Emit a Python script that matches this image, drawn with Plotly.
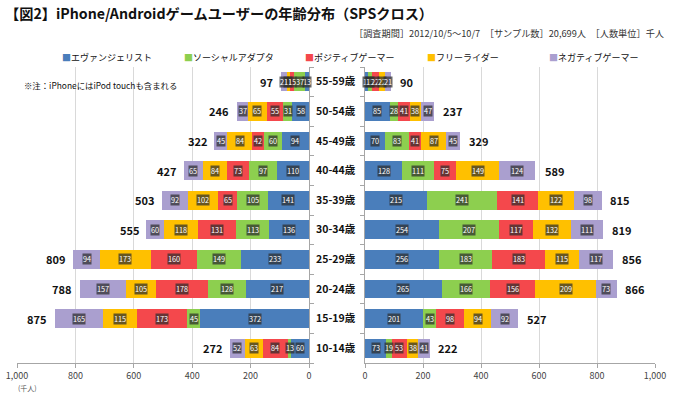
import plotly.graph_objects as go

ages = ["55-59歳", "50-54歳", "45-49歳", "40-44歳", "35-39歳",
        "30-34歳", "25-29歳", "20-24歳", "15-19歳", "10-14歳"]
series_names = ["エヴァンジェリスト", "ソーシャルアダプタ", "ポジティブゲーマー", "フリーライダー", "ネガティブゲーマー"]
colors = ["#4a7ebb", "#8dcf4f", "#f4484c", "#ffc000", "#aa9fcf"]

# iPhone (left)
iphone_evangelist = [13, 58, 94, 110, 141, 136, 233, 217, 372, 60]
iphone_social = [37, 31, 60, 97, 105, 113, 149, 128, 45, 13]
iphone_positive = [15, 55, 42, 73, 65, 131, 160, 178, 173, 84]
iphone_free = [11, 65, 84, 84, 102, 118, 173, 105, 115, 63]
iphone_negative = [21, 37, 45, 65, 92, 60, 94, 157, 165, 52]
iphone_total = [97, 246, 322, 427, 503, 555, 809, 788, 875, 272]

# Android (right)
android_evangelist = [12, 85, 70, 128, 215, 254, 256, 265, 201, 73]
android_social = [13, 28, 83, 111, 241, 207, 183, 166, 43, 19]
android_positive = [22, 41, 41, 75, 141, 117, 183, 156, 98, 53]
android_free = [22, 38, 87, 149, 122, 132, 115, 209, 94, 38]
android_negative = [21, 47, 45, 124, 98, 111, 117, 73, 92, 41]
android_total = [90, 237, 329, 589, 815, 819, 856, 866, 527, 222]

iphone = [iphone_evangelist, iphone_social, iphone_positive, iphone_free, iphone_negative]
android = [android_evangelist, android_social, android_positive, android_free, android_negative]

FONT = "Noto Sans CJK JP"
fig = go.Figure()

for i, name in enumerate(series_names):
    fig.add_trace(go.Bar(y=ages, x=iphone[i], orientation="h", name=name,
                         marker=dict(color=colors[i], line=dict(width=0)),
                         xaxis="x", yaxis="y", showlegend=False,
                         hoverinfo="x+name"))
    fig.add_trace(go.Bar(y=ages, x=android[i], orientation="h", name=name,
                         marker=dict(color=colors[i], line=dict(width=0)),
                         xaxis="x2", yaxis="y2", showlegend=False,
                         hoverinfo="x+name"))

annotations = []
def seg_labels(data, xref, yref):
    for r, age in enumerate(ages):
        cum = 0
        for s in range(len(data)):
            v = data[s][r]
            mid = cum + v / 2
            cum += v
            annotations.append(dict(x=mid, y=age, xref=xref, yref=yref, text=str(v),
                                    showarrow=False, font=dict(size=7.3, color="white", family=FONT),
                                    bgcolor="rgba(45,45,45,0.72)", borderpad=0))

seg_labels(iphone, "x", "y")
seg_labels(android, "x2", "y2")

for r, age in enumerate(ages):
    annotations.append(dict(x=iphone_total[r], y=age, xref="x", yref="y", text="<b>%d</b>" % iphone_total[r],
                            showarrow=False, xanchor="right", xshift=-6,
                            font=dict(size=11, color="#111", family=FONT)))
    annotations.append(dict(x=android_total[r], y=age, xref="x2", yref="y2", text="<b>%d</b>" % android_total[r],
                            showarrow=False, xanchor="left", xshift=7,
                            font=dict(size=11, color="#111", family=FONT)))

L, R, T, B = 17, 25, 67, 37
W, H = 680, 400
pw = W - L - R
ph = H - T - B
def px(x):
    return (x - L) / pw
def py(y):
    return (H - B - y) / ph

# custom legend row
legend_x = [60, 182, 303, 425, 547]
for i, name in enumerate(series_names):
    annotations.append(dict(x=px(legend_x[i]), y=py(57), xref="paper", yref="paper",
                            xanchor="left", yanchor="middle", showarrow=False,
                            text="<span style='color:%s'>■</span>%s" % (colors[i], name),
                            font=dict(size=9, color="#111", family=FONT)))

annotations += [
    dict(x=px(3), y=py(13), xref="paper", yref="paper", xanchor="left", yanchor="middle",
         text="<b>【図2】iPhone/Androidゲームユーザーの年齢分布（SPSクロス）</b>",
         showarrow=False, font=dict(size=14.2, color="#111", family=FONT)),
    dict(x=px(666), y=py(33), xref="paper", yref="paper", xanchor="right", yanchor="middle",
         text="［調査期間］2012/10/5～10/7　［サンプル数］20,699人　［人数単位］千人",
         showarrow=False, font=dict(size=9.2, color="#333", family=FONT)),
    dict(x=px(22), y=py(85), xref="paper", yref="paper", xanchor="left", yanchor="middle",
         text="※注：iPhoneにはiPod touchも含まれる",
         showarrow=False, font=dict(size=8.4, color="#111", family=FONT)),
    dict(x=px(16), y=py(388), xref="paper", yref="paper", xanchor="left", yanchor="middle",
         text="(千人)", showarrow=False, font=dict(size=7, color="#555", family=FONT)),
]

d1 = px(309)
d2 = px(365)

axis_common = dict(showgrid=True, gridcolor="#d9d9d9", gridwidth=1, showline=True,
                   linecolor="#a6a6a6", ticks="outside", ticklen=4, tickcolor="#a6a6a6",
                   dtick=200, tickformat=",", zeroline=False, automargin=False,
                   tickfont=dict(size=9, color="#444", family=FONT))

fig.update_layout(
    width=W, height=H,
    margin=dict(l=L, r=R, t=T, b=B, autoexpand=False),
    paper_bgcolor="white", plot_bgcolor="white",
    barmode="stack", bargap=0.36,
    font=dict(family=FONT),
    xaxis=dict(domain=[0, d1], range=[1000, 0], anchor="y", **axis_common),
    xaxis2=dict(domain=[d2, 1], range=[0, 1000], anchor="y2", **axis_common),
    yaxis=dict(anchor="x", side="right", autorange="reversed", showline=True, linecolor="#a6a6a6",
               ticks="outside", ticklen=4, tickcolor="#a6a6a6", tickson="boundaries",
               tickmode="array", tickvals=ages, ticktext=["<b>%s</b>" % a for a in ages],
               automargin=False, ticklabelstandoff=4,
               tickfont=dict(size=10.5, color="#111", family=FONT), showgrid=False),
    yaxis2=dict(anchor="x2", side="left", autorange="reversed", showline=True, linecolor="#a6a6a6",
                ticks="outside", ticklen=4, tickcolor="#a6a6a6", tickson="boundaries",
                showticklabels=False, showgrid=False, automargin=False),
    annotations=annotations,
    showlegend=False,
)

fig.write_html("out.html", config={"displayModeBar": False},
               post_script="document.body.style.margin='0';")
